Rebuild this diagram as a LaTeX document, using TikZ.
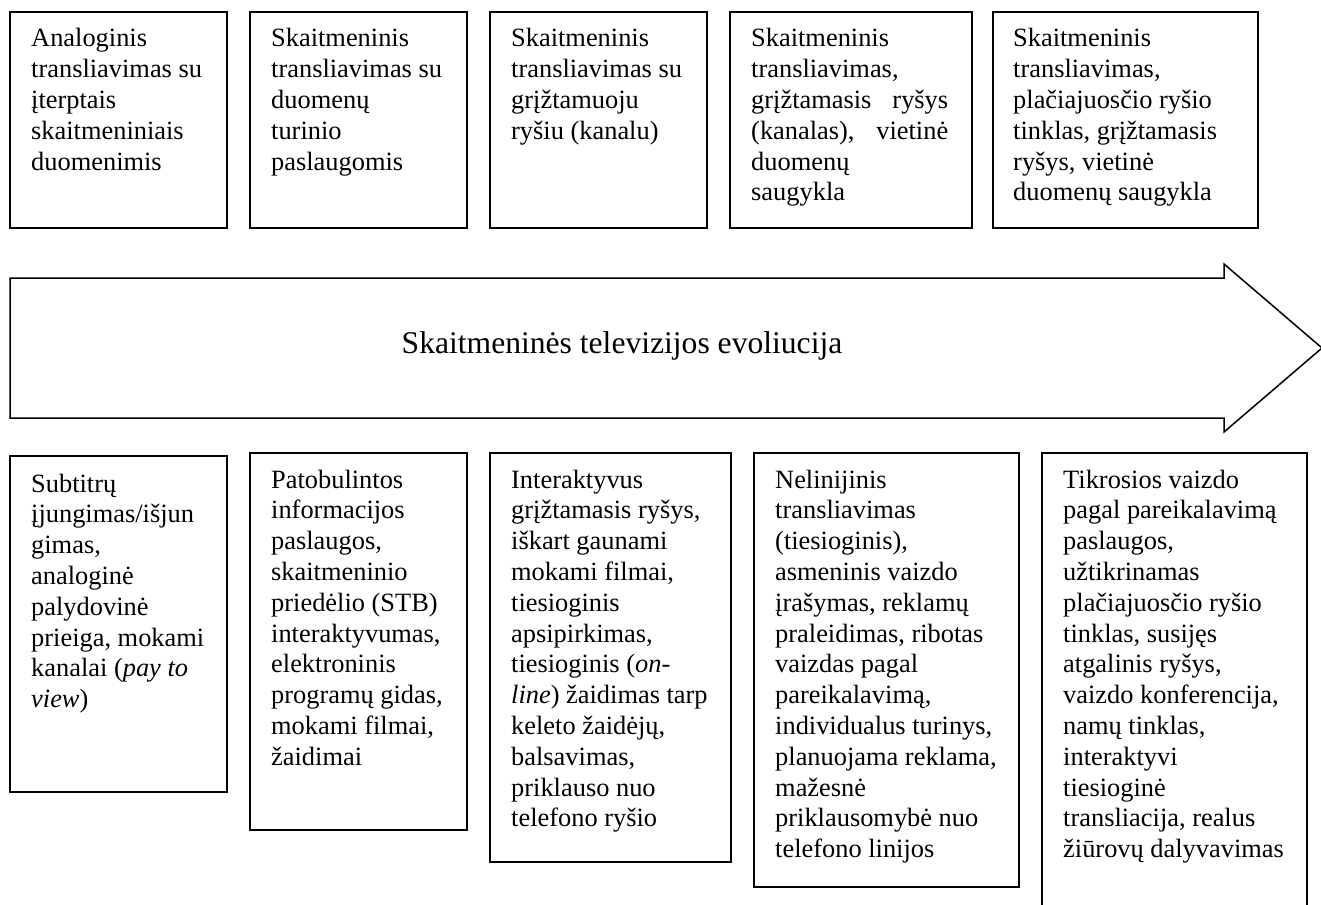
\documentclass[tikz,border=0pt]{standalone}
\usepackage{fontspec}
\setmainfont{Liberation Serif}
\newcommand\bodyfont{\fontsize{26.4}{30.8}\selectfont}
\newcommand\lns[1]{\begin{tabular}[t]{@{}l@{}}#1\end{tabular}}
\begin{document}
\begin{tikzpicture}[x=1pt,y=-1pt,
  box/.style={draw, line width=1.5pt, inner sep=0pt, outer sep=0pt, anchor=north west},
  txt/.style={anchor=base west, inner sep=0pt, font=\bodyfont},
  lbl/.style={anchor=base, inner sep=0pt, font=\fontsize{31.6}{36}\selectfont}]
\useasboundingbox[fill=white] (0,0) rectangle (1321,904);

% top boxes
\node[box, minimum width=217pt, minimum height=216pt] (tb1) at (10,12) {};
\node[box, minimum width=217pt, minimum height=216pt] (tb2) at (250,12) {};
\node[box, minimum width=217pt, minimum height=216pt] (tb3) at (490,12) {};
\node[box, minimum width=242pt, minimum height=216pt] (tb4) at (730,12) {};
\node[box, minimum width=265pt, minimum height=216pt] (tb5) at (993,12) {};

\node[txt] (tt1) at (31,47) {\lns{Analoginis\\transliavimas su\\įterptais\\skaitmeniniais\\duomenimis}};
\node[txt] (tt2) at (271,47) {\lns{Skaitmeninis\\transliavimas su\\duomenų\\turinio\\paslaugomis}};
\node[txt] (tt3) at (511,47) {\lns{Skaitmeninis\\transliavimas su\\grįžtamuoju\\ryšiu (kanalu)}};
\node[txt] (tt4) at (751,47) {\lns{Skaitmeninis\\transliavimas,\\\makebox[197pt][s]{grįžtamasis ryšys}\\\makebox[197pt][s]{(kanalas), vietinė}\\duomenų\\saugykla}};
\node[txt] (tt5) at (1013,47) {\lns{Skaitmeninis\\transliavimas,\\plačiajuosčio ryšio\\tinklas, grįžtamasis\\ryšys, vietinė\\duomenų saugykla}};

% big arrow
\draw[line width=1.5pt, line join=miter] (10,278) -- (1224,278) -- (1224,264) -- (1322,348) -- (1224,432) -- (1224,418) -- (10,418) -- cycle;
\node[lbl] (title) at (622,353) {Skaitmeninės televizijos evoliucija};

% bottom boxes
\node[box, minimum width=217pt, minimum height=336pt] (bb1) at (10,456) {};
\node[box, minimum width=217pt, minimum height=377pt] (bb2) at (250,453) {};
\node[box, minimum width=241pt, minimum height=409pt] (bb3) at (490,453) {};
\node[box, minimum width=265pt, minimum height=434pt] (bb4) at (754,453) {};
\node[box, minimum width=265pt, minimum height=470pt] (bb5) at (1042,453) {};

\node[txt] (bt1) at (31,492) {\lns{Subtitrų\\įjungimas/išjun\\gimas,\\analoginė\\palydovinė\\prieiga, mokami\\kanalai (\textit{pay to}\\\textit{view})}};
\node[txt] (bt2) at (271,488) {\lns{Patobulintos\\informacijos\\paslaugos,\\skaitmeninio\\priedėlio (STB)\\interaktyvumas,\\elektroninis\\programų gidas,\\mokami filmai,\\žaidimai}};
\node[txt] (bt3) at (511,488) {\lns{Interaktyvus\\grįžtamasis ryšys,\\iškart gaunami\\mokami filmai,\\tiesioginis\\apsipirkimas,\\tiesioginis (\textit{on-}\\\textit{line}) žaidimas tarp\\keleto žaidėjų,\\balsavimas,\\priklauso nuo\\telefono ryšio}};
\node[txt] (bt4) at (775,488) {\lns{Nelinijinis\\transliavimas\\(tiesioginis),\\asmeninis vaizdo\\įrašymas, reklamų\\praleidimas, ribotas\\vaizdas pagal\\pareikalavimą,\\individualus turinys,\\planuojama reklama,\\mažesnė\\priklausomybė nuo\\telefono linijos}};
\node[txt] (bt5) at (1063,488) {\lns{Tikrosios vaizdo\\pagal pareikalavimą\\paslaugos,\\užtikrinamas\\plačiajuosčio ryšio\\tinklas, susijęs\\atgalinis ryšys,\\vaizdo konferencija,\\namų tinklas,\\interaktyvi\\tiesioginė\\transliacija, realus\\žiūrovų dalyvavimas}};
\end{tikzpicture}
\end{document}
